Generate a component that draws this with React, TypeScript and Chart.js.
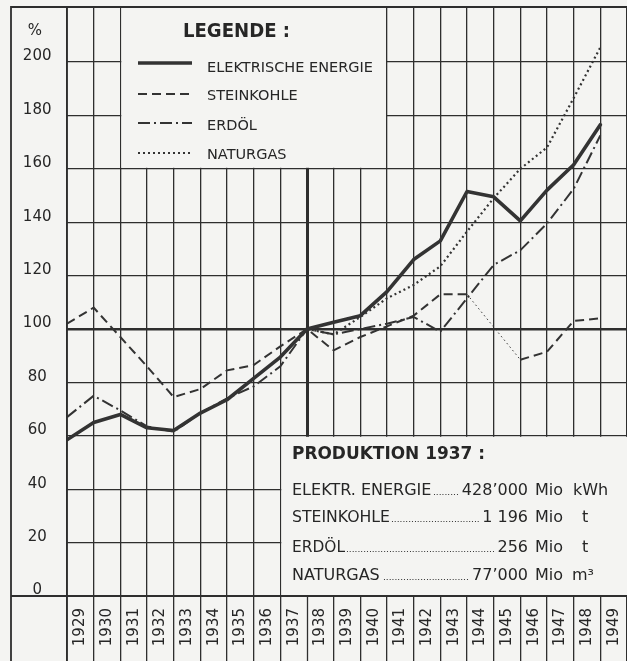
import React, { useEffect, useRef } from 'react';
import { Chart, registerables } from 'chart.js';

Chart.register(...registerables);

// ---------- data ----------
const years = ['1929', '1930', '1931', '1932', '1933', '1934', '1935', '1936', '1937', '1938', '1939',
  '1940', '1941', '1942', '1943', '1944', '1945', '1946', '1947', '1948', '1949'];
const elektrischeEnergie = [58.5, 65, 68, 63, 62, 68.5, 73.5, 81.5, 89.5, 100, 102.5, 105, 114, 126, 133, 151.5, 149.5, 140.5, 152, 161.5, 176.5];
const steinkohle = [102, 108, 97, 86, 74.5, 77.5, 84.5, 86.5, 93.5, 100, 92, 97, 101, 105, 113, 113, null, 88.5, 91.5, 103, 104];
const erdoel = [67, 75, 69.5, 63.5, 61.5, 68.5, 74, 78.5, 86, 100, 98, 100, 102, 104.5, 99, 111.5, 124, 129.5, 139.5, 152.5, 172.5];
const naturgas = [null, null, null, null, null, null, null, null, null, 100, 98, 104.5, 111.5, 116.5, 123.5, 136.5, 149, 160, 168, 186.5, 205.5];
const yTickValues = [0, 20, 40, 60, 80, 100, 120, 140, 160, 180, 200];
const seriesLabels = ['ELEKTRISCHE ENERGIE', 'STEINKOHLE', 'ERDÖL', 'NATURGAS'];
const legendTitle = 'LEGENDE :';
const productionTitle = 'PRODUKTION 1937 :';
const productionItems = ['ELEKTR. ENERGIE', 'STEINKOHLE', 'ERDÖL', 'NATURGAS'];
const productionValues = ['428\u2019000', '1 196', '256', '77\u2019000'];
const productionUnits = ['kWh', 't', 't', 'm\u00B3'];

// ---------- styles ----------
const FONT = "'DejaVu Sans', sans-serif";
const INK = '#262626';
const GRID = '#2e2e2e';
const BG = '#f4f4f2';
const DASH_STEIN = [9, 5];
const DASH_ERDOEL = [12, 4, 2, 4];
const DASH_GAS = [2, 3];

const toPts = (arr: (number | null)[]) => arr.map((v, i) => ({ x: i, y: v }));
const isGap = (c: any) => steinkohle[c.p0DataIndex] === null || c.p1DataIndex - c.p0DataIndex > 1;

const boxesPlugin = {
  id: 'boxes',
  beforeDatasetsDraw(chart: any) {
    const { ctx, chartArea: ca, scales } = chart;
    const x = scales.x, y = scales.y;
    ctx.save();
    ctx.fillStyle = BG;
    const lx0 = x.getPixelForValue(2), lx1 = x.getPixelForValue(12), ly1 = y.getPixelForValue(160);
    ctx.fillRect(lx0 + 1, ca.top + 1, lx1 - lx0 - 2, ly1 - ca.top - 2);
    const px0 = x.getPixelForValue(8), py0 = y.getPixelForValue(60), py1 = y.getPixelForValue(0);
    ctx.fillRect(px0 + 1, py0 + 1, ca.right - px0 + 2, py1 - py0 - 2);
    ctx.restore();
  },
  afterDatasetsDraw(chart: any) {
    const { ctx } = chart;
    ctx.save();
    ctx.fillStyle = INK;
    ctx.strokeStyle = INK;
    ctx.textBaseline = 'alphabetic';
    ctx.textAlign = 'left';
    // % sign
    ctx.font = `15px ${FONT}`;
    ctx.textAlign = 'center';
    ctx.fillText('%', 35, 35);
    ctx.textAlign = 'left';

    // legend
    ctx.font = `bold 19px ${FONT}`;
    ctx.fillText(legendTitle, 183, 37, 107);
    const lineY = [63, 94, 123, 153];
    const textY = [72, 100, 130, 159];
    const textW = [166, 96, 50, 84];
    chart.data.datasets.forEach((ds: any, i: number) => {
      ctx.save();
      ctx.beginPath();
      ctx.setLineDash(ds.borderDash || []);
      ctx.lineWidth = ds.borderWidth;
      ctx.strokeStyle = ds.borderColor;
      ctx.moveTo(138, lineY[i]);
      ctx.lineTo(192, lineY[i]);
      ctx.stroke();
      ctx.restore();
      ctx.font = `14.5px ${FONT}`;
      ctx.fillText(seriesLabels[i], 207, textY[i], textW[i]);
    });

    // production box
    ctx.font = `bold 18px ${FONT}`;
    ctx.fillText(productionTitle, 292, 459, 193);
    const rowY = [495, 522, 552, 580];
    const labelEnd = [432, 390, 345, 382];
    const unitX = [573, 582, 582, 572];
    productionItems.forEach((lab, i) => {
      ctx.font = `16px ${FONT}`;
      ctx.textAlign = 'left';
      ctx.fillText(lab, 292, rowY[i], labelEnd[i] - 292);
      ctx.textAlign = 'right';
      const numW = Math.min(ctx.measureText(productionValues[i]).width, 75);
      ctx.fillText(productionValues[i], 528, rowY[i], 75);
      ctx.textAlign = 'left';
      ctx.fillText('Mio', 535, rowY[i]);
      ctx.fillText(productionUnits[i], unitX[i], rowY[i]);
      // dot leader
      ctx.font = `9px ${FONT}`;
      const dw = ctx.measureText('.').width;
      const start = labelEnd[i] + 1;
      const end = 528 - numW - 1;
      const n = Math.max(0, Math.floor((end - start) / dw));
      ctx.fillText('.'.repeat(n), start, rowY[i]);
    });
    ctx.restore();
  },
  afterDraw(chart: any) {
    const { ctx, chartArea: ca } = chart;
    ctx.save();
    ctx.strokeStyle = GRID;
    ctx.lineWidth = 1.8;
    ctx.beginPath();
    ctx.moveTo(11, 661); ctx.lineTo(11, ca.top); ctx.lineTo(chart.width, ca.top);
    ctx.moveTo(ca.left, ca.top); ctx.lineTo(ca.left, 661);
    ctx.moveTo(11, ca.bottom); ctx.lineTo(chart.width, ca.bottom);
    ctx.stroke();
    ctx.restore();
  },
};

export default function App() {
  const ref = useRef<HTMLCanvasElement | null>(null);
  useEffect(() => {
    if (!ref.current) return;
    const chart = new Chart(ref.current, {
      type: 'line',
      data: {
        datasets: [
          {
            label: seriesLabels[0], data: toPts(elektrischeEnergie) as any,
            borderColor: '#333', borderWidth: 3.6, borderDash: [], pointRadius: 0,
            borderJoinStyle: 'round', borderCapStyle: 'round',
          },
          {
            label: seriesLabels[1], data: toPts(steinkohle) as any,
            borderColor: '#333', borderWidth: 2, borderDash: DASH_STEIN, pointRadius: 0, spanGaps: true,
            segment: {
              borderDash: (c: any) => (isGap(c) ? [1.5, 3] : undefined),
              borderWidth: (c: any) => (isGap(c) ? 1 : undefined),
            },
          },
          {
            label: seriesLabels[2], data: toPts(erdoel) as any,
            borderColor: '#333', borderWidth: 2, borderDash: DASH_ERDOEL, pointRadius: 0,
          },
          {
            label: seriesLabels[3], data: toPts(naturgas) as any,
            borderColor: '#333', borderWidth: 2.2, borderDash: DASH_GAS, pointRadius: 0,
          },
        ],
      },
      options: {
        animation: false,
        responsive: true,
        maintainAspectRatio: false,
        layout: { padding: { left: 11, top: 7, right: 0, bottom: 0 } },
        plugins: { legend: { display: false }, tooltip: { enabled: false } },
        scales: {
          x: {
            type: 'linear', min: 0, max: 21,
            afterBuildTicks: (s: any) => { s.ticks = years.map((_, i) => ({ value: i })).concat([{ value: 21 }]); },
            afterFit: (s: any) => { s.height = 65; s.paddingLeft = 0; s.paddingRight = 0; },
            border: { display: false },
            grid: {
              color: GRID,
              lineWidth: (c: any) => (c.tick && c.tick.value === 9 ? 3 : 1.3),
              drawTicks: true, tickLength: 65, tickWidth: 1.3, tickColor: GRID,
            },
            ticks: {
              autoSkip: false, minRotation: 90, maxRotation: 90,
              labelOffset: 13.33, padding: -53,
              color: INK, font: { family: FONT, size: 15 },
              callback: (v: any) => years[v] ?? '',
            },
          },
          y: {
            type: 'linear', min: 0, max: 220.6,
            afterBuildTicks: (s: any) => { s.ticks = yTickValues.map((v) => ({ value: v })); },
            afterFit: (s: any) => { s.width = 56; s.paddingTop = 0; s.paddingBottom = 0; },
            border: { display: false },
            grid: {
              color: GRID,
              lineWidth: (c: any) => (c.tick && c.tick.value === 100 ? 2.6 : 1.3),
              drawTicks: false,
            },
            ticks: {
              autoSkip: false, crossAlign: 'center', padding: 15.5, labelOffset: -5.5,
              color: INK, font: { family: FONT, size: 15 },
              callback: (v: any) => String(v),
            },
          },
        },
      } as any,
      plugins: [boxesPlugin],
    });
    return () => chart.destroy();
  }, []);
  return (
    <div style={{ position: 'absolute', left: 0, top: 0, width: 627, height: 661, background: BG }}>
      <canvas ref={ref} />
    </div>
  );
}
